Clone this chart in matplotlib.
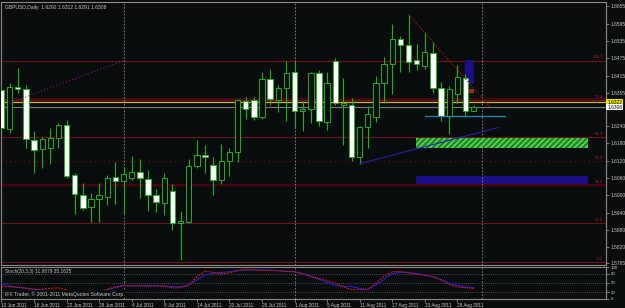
import matplotlib
matplotlib.use("Agg")
import matplotlib.pyplot as plt
from matplotlib.patches import Rectangle

plt.rcParams["font.family"] = ["Liberation Sans", "DejaVu Sans"]

# GBPUSD daily, 10 Jun 2011 .. 31 Aug 2011 (bar index 0..58)
opens = [1.6365, 1.6230, 1.6375, 1.6369, 1.6192, 1.6160, 1.6166, 1.6200, 1.6244, 1.6070,
         1.6003, 1.5960, 1.5986, 1.5995, 1.6064, 1.6051, 1.6061, 1.6080, 1.6057, 1.6003,
         1.5974, 1.6016, 1.5905, 1.5907, 1.6102, 1.6139, 1.6107, 1.6055, 1.6120, 1.6151,
         1.6328, 1.6331, 1.6273, 1.6402, 1.6331, 1.6371, 1.6427, 1.6293, 1.6298, 1.6425,
         1.6255, 1.6467, 1.6313, 1.6314, 1.6132, 1.6236, 1.6273, 1.6389, 1.6455, 1.6542,
         1.6521, 1.6469, 1.6449, 1.6495, 1.6373, 1.6275, 1.6350, 1.6406, 1.6292]
highs = [1.6379, 1.6389, 1.6441, 1.6383, 1.6224, 1.6203, 1.6232, 1.6250, 1.6261, 1.6076,
         1.6044, 1.6009, 1.6042, 1.6070, 1.6117, 1.6100, 1.6136, 1.6125, 1.6088, 1.6021,
         1.6078, 1.6039, 1.5946, 1.6125, 1.6192, 1.6173, 1.6134, 1.6177, 1.6163, 1.6333,
         1.6340, 1.6340, 1.6428, 1.6437, 1.6382, 1.6467, 1.6467, 1.6326, 1.6429, 1.6435,
         1.6429, 1.6475, 1.6406, 1.6336, 1.6240, 1.6310, 1.6414, 1.6479, 1.6594, 1.6553,
         1.6626, 1.6524, 1.6567, 1.6533, 1.6394, 1.6379, 1.6452, 1.6421, 1.6312]
lows = [1.6226, 1.6215, 1.6354, 1.6166, 1.6076, 1.6094, 1.6109, 1.6166, 1.6059, 1.5937,
        1.5949, 1.5908, 1.5908, 1.5966, 1.5972, 1.5937, 1.6055, 1.5990, 1.5947, 1.5943,
        1.5932, 1.5880, 1.5776, 1.5903, 1.6096, 1.6076, 1.6003, 1.6039, 1.6068, 1.6117,
        1.6264, 1.6261, 1.6266, 1.6313, 1.6290, 1.6259, 1.6236, 1.6224, 1.6250, 1.6240,
        1.6226, 1.6313, 1.6174, 1.6120, 1.6109, 1.6166, 1.6255, 1.6321, 1.6351, 1.6429,
        1.6429, 1.6434, 1.6437, 1.6356, 1.6259, 1.6213, 1.6321, 1.6275, 1.6291]
closes = [1.6232, 1.6375, 1.6368, 1.6194, 1.6157, 1.6194, 1.6198, 1.6243, 1.6068, 1.6004,
          1.5955, 1.5986, 1.6001, 1.6059, 1.6051, 1.6074, 1.6080, 1.6059, 1.6003, 1.5976,
          1.6059, 1.5905, 1.5911, 1.6102, 1.6140, 1.6133, 1.6055, 1.6120, 1.6151, 1.6331,
          1.6299, 1.6273, 1.6402, 1.6333, 1.6371, 1.6423, 1.6293, 1.6299, 1.6425, 1.6259,
          1.6389, 1.6321, 1.6319, 1.6132, 1.6236, 1.6281, 1.6389, 1.6455, 1.6541, 1.6521,
          1.6463, 1.6454, 1.6496, 1.6371, 1.6275, 1.6368, 1.6409, 1.6293, 1.6308]

# Stochastic(20,3,3)
stoch_main = [39, 38, 36, 33, 28, 30, 33, 34, 28, 20, 18, 20, 23, 30, 37, 41, 41, 41, 40, 41,
              40, 34, 35, 42, 70, 88, 84, 80, 82, 90, 93, 92, 90, 90, 89, 87, 86, 80, 70, 65,
              58, 50, 37, 29, 28, 28, 50, 72, 86, 87, 82, 78, 74, 70, 60, 45, 37, 35, 31.8879]
stoch_signal = [49, 40, 36, 33, 30, 28, 25, 23, 22, 20, 18, 18, 21, 28, 35, 41, 41, 41, 41, 41,
                40, 38, 37, 44, 60, 76, 81, 84, 86, 90, 92, 92, 92, 91, 90, 88, 86, 80, 72, 62,
                52, 42, 39, 39, 32, 30, 44, 62, 80, 84, 84, 80, 76, 70, 60, 50, 42, 37, 35.1625]

date_idx = [0, 4, 8, 12, 16, 20, 24, 28, 32, 36, 40, 44, 48, 52, 56]
date_labels = ["10 Jun 2011", "16 Jun 2011", "22 Jun 2011", "28 Jun 2011", "4 Jul 2011",
               "8 Jul 2011", "14 Jul 2011", "20 Jul 2011", "26 Jul 2011", "1 Aug 2011",
               "5 Aug 2011", "11 Aug 2011", "17 Aug 2011", "23 Aug 2011", "29 Aug 2011"]
month_starts = [15, 36, 59]

price_ticks = [1.6655, 1.6595, 1.6535, 1.6475, 1.6415, 1.6355, 1.6240, 1.6180,
               1.6120, 1.6060, 1.6000, 1.5940, 1.5880, 1.5820, 1.5765]

# horizontal levels drawn on the chart
fib_prices = [1.6467, 1.6331, 1.6201, 1.6036, 1.5903, 1.5770]
fib_labels = ["100.0", "76.4", "61.8", "38.2", "23.6", "0.0"]
mid_level = 1.6119
ask_line = 1.6322
bid_line = 1.6308

# trend lines (bar index, price)
purple_x, purple_y = [1.0, 15.0], [1.6320, 1.6467]
red_x, red_y = [50.0, 60.0], [1.6627, 1.6307]
blue_x, blue_y = [44.0, 61.0], [1.6110, 1.6235]
teal_x, teal_y = [52.0, 61.9], [1.6275, 1.6275]

# zones (x0, x1, p0, p1)
green_zone = (50.9, 72.1, 1.6165, 1.6200)
navy_zone = (50.9, 72.1, 1.6039, 1.6067)
box_blue = (56.95, 58.05, 1.6386, 1.6469)
box_red = (56.95, 58.05, 1.6354, 1.6368)

BG = "#0a0d0d"
GREEN = "#22b022"
GRID = "#8c8c8c"
TXT = "#c8c8c8"
FS = 3.5

fig = plt.figure(figsize=(6.25, 3.08), dpi=100, facecolor=BG)
ax = fig.add_axes([1 / 625, 43 / 308, 605 / 625, 263 / 308], facecolor=BG)
ax2 = fig.add_axes([1 / 625, 9.5 / 308, 605 / 625, 31.5 / 308], facecolor=BG)

xlim = (-0.06, 74.26)

# levels
for p in fib_prices:
    ax.axhline(p, color="#6e1414", lw=0.8, zorder=1)
ax.axhline(fib_prices[1], color="#3c0a12", lw=3, zorder=0.9)
ax.axhline(fib_prices[3], color="#50000f", lw=1.3, zorder=1)
ax.axhline(mid_level, color="#7a1010", lw=0.8, ls=(0, (1, 3)), zorder=1)
for p, lab in zip(fib_prices + [mid_level], fib_labels + ["50.0"]):
    ax.text(73.9, p + 0.0004, lab, color="#a02020", fontsize=3.2, ha="right", va="bottom", zorder=2)
ax.axhline(ask_line, color="#c8c800", lw=0.8, zorder=1.5)
ax.axhline(bid_line, color="#7a7a80", lw=0.8, zorder=1.5)

# zones
gx0, gx1, gp0, gp1 = green_zone
ax.add_patch(Rectangle((gx0, gp0), gx1 - gx0, gp1 - gp0, facecolor="#1f8a1f",
                       edgecolor="#66e066", hatch="//////", lw=0, zorder=1.2))
nx0, nx1, np0, np1 = navy_zone
ax.add_patch(Rectangle((nx0, np0), nx1 - nx0, np1 - np0, facecolor="#1c0f86", lw=0, zorder=1.2))
bx0, bx1, bp0, bp1 = box_blue
ax.add_patch(Rectangle((bx0, bp0), bx1 - bx0, bp1 - bp0, facecolor="#1c0f86", lw=0, zorder=1.2))
rx0, rx1, rp0, rp1 = box_red
ax.add_patch(Rectangle((rx0, rp0), rx1 - rx0, rp1 - rp0, facecolor="#9a2a2a", lw=0, zorder=1.2))

# month separators
for m in month_starts:
    ax.axvline(m, color=GRID, lw=0.6, ls=(0, (2, 2)), zorder=1.3)
    ax2.axvline(m, color=GRID, lw=0.6, ls=(0, (2, 2)), zorder=1.3)

# candles
xs = list(range(len(opens)))
ax.vlines(xs, lows, highs, color=GREEN, lw=0.8, zorder=3)
for i in xs:
    o, c = opens[i], closes[i]
    lo, hi = min(o, c), max(o, c)
    h = max(hi - lo, 0.00012)
    face = "white" if c < o else BG
    ax.add_patch(Rectangle((i - 0.33, lo), 0.66, h, facecolor=face, edgecolor=GREEN,
                           lw=0.7, zorder=4))

# trend lines
ax.plot(purple_x, purple_y, color="#8a1a8a", lw=0.8, ls=(0, (1, 2)), zorder=5)
ax.plot(red_x, red_y, color="#c01818", lw=0.8, ls=(0, (1, 1.5)), zorder=5)
ax.plot(blue_x, blue_y, color="#2424b0", lw=0.8, zorder=5)
ax.plot(teal_x, teal_y, color="#1e8cb4", lw=0.9, zorder=5)

ax.set_xlim(*xlim)
ax.set_ylim(1.5759, 1.6670)
ax.set_xticks([])
ax.yaxis.tick_right()
ax.set_yticks(price_ticks)
ax.set_yticklabels([f"{p:.4f}" for p in price_ticks])
ax.tick_params(axis="y", colors=GRID, labelcolor=TXT, labelsize=FS, length=2, width=0.6, pad=1.2)
for s in ax.spines.values():
    s.set_color(GRID)
    s.set_linewidth(0.8)

# current price boxes
ax.text(1.002, ask_line + 0.0001, "1.6322", transform=ax.get_yaxis_transform(), fontsize=FS,
        color="black", va="center", ha="left",
        bbox=dict(boxstyle="square,pad=0.15", facecolor="#e8e800", edgecolor="none"))
ax.text(1.002, bid_line - 0.0002, "1.6308", transform=ax.get_yaxis_transform(), fontsize=FS,
        color="black", va="center", ha="left",
        bbox=dict(boxstyle="square,pad=0.15", facecolor="white", edgecolor="none"))

ax.text(0.006, 0.99, "GBPUSD,Daily  1.6292 1.6312 1.6291 1.6308", transform=ax.transAxes,
        color=TXT, fontsize=3.6, va="top", ha="left")

# stochastic panel
for lvl in [20, 50, 80]:
    ax2.axhline(lvl, color=GRID, lw=0.5, ls=(0, (1, 2)), zorder=1)
ax2.plot(xs, stoch_signal, color="#2020e0", lw=0.8, zorder=3)
ax2.plot(xs, stoch_main, color="#d01010", lw=0.8, ls=(0, (2, 1)), zorder=3)
ax2.set_xlim(*xlim)
ax2.set_ylim(1.3, 101.3)
ax2.yaxis.tick_right()
ax2.set_yticks([100, 80, 50, 20, 0])
ax2.set_yticklabels(["100", "80", "50", "20", "0"])
ax2.tick_params(axis="y", colors=GRID, labelcolor=TXT, labelsize=3.2, length=2, width=0.6, pad=1.2)
ax2.set_xticks(date_idx)
ax2.set_xticklabels(date_labels, ha="left")
ax2.tick_params(axis="x", colors=GRID, labelcolor=TXT, labelsize=3.4, length=2, width=0.6, pad=1)
for s in ax2.spines.values():
    s.set_color(GRID)
    s.set_linewidth(0.8)
ax2.text(0.006, 0.93, "Stoch(20,3,3) 31.8879 35.1625", transform=ax2.transAxes,
         color=TXT, fontsize=3.4, va="top", ha="left")
ax2.text(0.006, 0.06, "IFX Trader, \u00a9 2001-2011 MetaQuotes Software Corp.", transform=ax2.transAxes,
         color=TXT, fontsize=3.6, va="bottom", ha="left",
         bbox=dict(boxstyle="square,pad=0.1", facecolor=BG, edgecolor="none"))

fig.savefig("out.png", dpi=100, facecolor=BG)
